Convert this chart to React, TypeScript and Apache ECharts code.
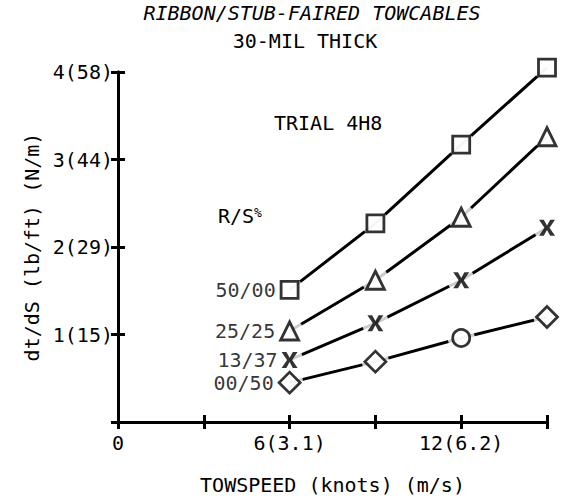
import React, { useEffect, useRef } from "react";
import * as echarts from "echarts";

const speeds = [6, 9, 12, 15];
const seriesNames = ["50/00", "25/25", "13/37", "00/50"];
const s5000 = [1.51, 2.27, 3.17, 4.05];
const s2525 = [1.04, 1.62, 2.34, 3.26];
const s1337 = [0.71, 1.13, 1.62, 2.22];
const s0050 = [0.45, 0.69, 0.96, 1.2];
const yTickLabels = ["", "1(15)", "2(29)", "3(44)", "4(58)"];
const xTickLabels: Record<number, string> = { 0: "0", 6: "6(3.1)", 12: "12(6.2)" };

const FONT = "DejaVu Sans Mono, monospace";
const FS = 20;
const XPATH =
  "path://M0,0 L3,0 L5,3.6 L7,0 L10,0 L6.6,5 L10,10 L7,10 L5,6.4 L3,10 L0,10 L3.4,5 Z";

export default function App() {
  const ref = useRef<HTMLDivElement>(null);
  useEffect(() => {
    document.body.style.margin = "0";
    const chart = echarts.init(ref.current!, null, { renderer: "svg" });
    const groups = [
      { name: seriesNames[0], vals: s5000, syms: ["rect", "rect", "rect", "rect"], size: 17 },
      { name: seriesNames[1], vals: s2525, syms: ["triangle", "triangle", "triangle", "triangle"], size: 18 },
      { name: seriesNames[2], vals: s1337, syms: [XPATH, XPATH, XPATH, XPATH], size: 16 },
      { name: seriesNames[3], vals: s0050, syms: ["diamond", "diamond", "circle", "diamond"], size: 21 },
    ];
    const series: any[] = [];
    groups.forEach((g) => {
      const pts = speeds.map((s, i) => [s, g.vals[i]]);
      series.push({
        type: "line",
        data: pts,
        symbol: "none",
        clip: false,
        z: 2,
        lineStyle: { color: "#000", width: 3 },
      });
      series.push({
        type: "scatter",
        data: pts,
        symbol: "circle",
        symbolSize: 27,
        clip: false,
        z: 3,
        itemStyle: { color: "#fff" },
        silent: true,
      });
      series.push({
        type: "scatter",
        name: g.name,
        clip: false,
        z: 4,
        data: pts.map((p, i) => ({
          value: p,
          symbol: g.syms[i],
          symbolSize: g.syms[i] === "circle" ? 17 : g.size,
          itemStyle:
            g.syms[i] === XPATH
              ? { color: "#000", borderWidth: 0 }
              : { color: "#fff", borderColor: "#000", borderWidth: 2.8 },
          label:
            i === 0
              ? {
                  show: true,
                  position: "left",
                  distance: 4,
                  formatter: g.name,
                  color: "#000",
                  fontSize: FS,
                  fontFamily: FONT,
                }
              : { show: false },
        })),
      });
    });

    const tick = { inside: true, length: 7, lineStyle: { color: "#000", width: 3 } };
    const line = { lineStyle: { color: "#000", width: 3 } };
    chart.setOption({
      animation: false,
      backgroundColor: "#fff",
      grid: { left: 118, right: 18, top: 72, bottom: 80, containLabel: false, outerBoundsMode: "none" },
      xAxis: [
        {
          type: "value",
          min: 0,
          max: 15,
          interval: 3,
          position: "bottom",
          name: "TOWSPEED (knots) (m/s)",
          nameLocation: "middle",
          nameGap: 53,
          nameTextStyle: { color: "#000", fontSize: FS, fontFamily: FONT },
          axisLine: line,
          axisTick: tick,
          axisLabel: {
            color: "#000",
            fontSize: FS,
            fontFamily: FONT,
            margin: 11,
            formatter: (v: number) => xTickLabels[v] ?? "",
          },
          splitLine: { show: false },
        },
        {
          type: "value",
          min: 0,
          max: 15,
          interval: 3,
          position: "top",
          axisLine: line,
          axisTick: tick,
          axisLabel: { show: false },
          splitLine: { show: false },
        },
      ],
      yAxis: [
        {
          type: "value",
          min: 0,
          max: 4,
          interval: 1,
          position: "left",
          name: "dt/dS (lb/ft) (N/m)",
          nameLocation: "middle",
          nameGap: 74,
          nameRotate: 90,
          nameTextStyle: { color: "#000", fontSize: FS, fontFamily: FONT },
          axisLine: line,
          axisTick: tick,
          axisLabel: {
            color: "#000",
            fontSize: FS,
            fontFamily: FONT,
            margin: 5,
            formatter: (v: number) => yTickLabels[v] ?? "",
          },
          splitLine: { show: false },
        },
        {
          type: "value",
          min: 0,
          max: 4,
          interval: 1,
          position: "right",
          axisLine: line,
          axisTick: tick,
          axisLabel: { show: false },
          splitLine: { show: false },
        },
      ],
      graphic: [
        {
          type: "text",
          x: 312,
          y: 3,
          style: {
            text: "RIBBON/STUB-FAIRED TOWCABLES",
            fill: "#000",
            fontSize: FS,
            fontFamily: FONT,
            fontStyle: "italic",
            align: "center",
          },
        },
        {
          type: "text",
          x: 305,
          y: 31,
          style: {
            text: "30-MIL THICK",
            fill: "#000",
            fontSize: FS,
            fontFamily: FONT,
            align: "center",
          },
        },
        {
          type: "text",
          x: 274,
          y: 113,
          style: { text: "TRIAL 4H8", fill: "#000", fontSize: FS, fontFamily: FONT },
        },
        {
          type: "text",
          x: 218,
          y: 206,
          style: {
            rich: { p: { fontSize: 13, fontFamily: FONT, fill: "#000", verticalAlign: "top" } },
            text: "R/S{p|%}",
            fill: "#000",
            fontSize: FS,
            fontFamily: FONT,
          },
        },
      ],
      series,
    });
    return () => chart.dispose();
  }, []);
  return <div ref={ref} style={{ width: 565, height: 502 }} />;
}
